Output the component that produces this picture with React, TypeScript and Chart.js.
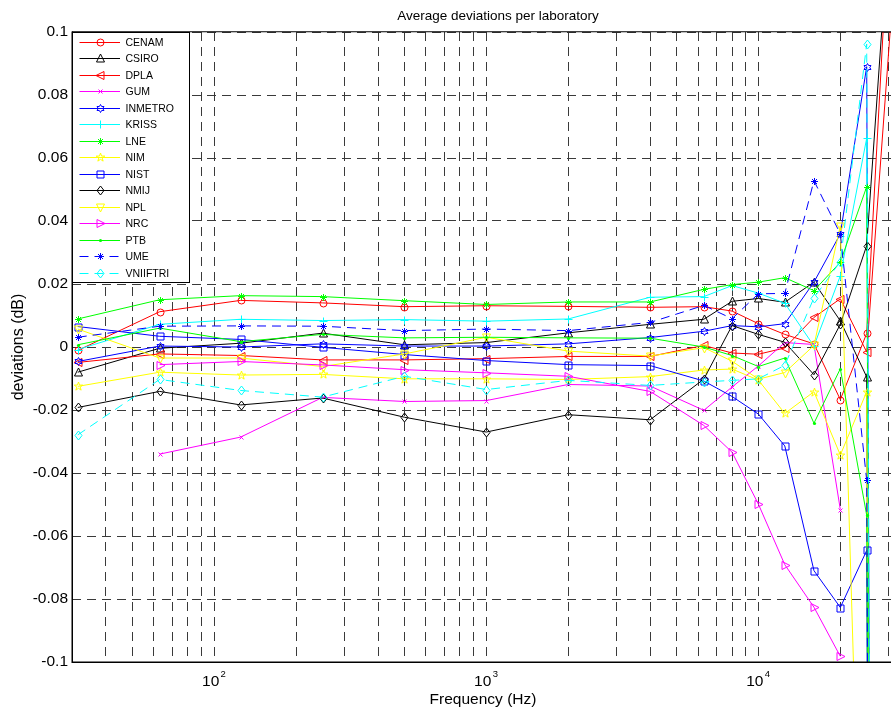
import React, { useEffect, useRef } from 'react';
import { Chart, registerables } from 'chart.js';

Chart.register(...registerables);

// ---------------- data ----------------
const frequencies = [31.5, 63, 125, 250, 500, 1000, 2000, 4000, 6300, 8000, 10000, 12500, 16000, 20000, 25000, 31500];

const CENAM = [-0.0011, 0.0112, 0.0148, 0.0140, 0.0128, 0.0131, 0.0129, 0.0126, 0.0128, 0.0114, 0.0074, 0.0040, 0.0010, -0.0167, 0.0043, 0.164];
const CSIRO = [-0.0080, -0.0004, 0.0012, 0.0044, 0.0007, 0.0014, 0.0045, 0.0072, 0.0088, 0.0145, 0.0154, 0.0142, 0.0206, 0.0083, -0.0095, -2.0];
const DPLA = [-0.0049, -0.0022, -0.0027, -0.0041, -0.0041, -0.0037, -0.0030, -0.0030, 0.0005, -0.0019, -0.0023, -0.0003, 0.0094, 0.0153, -0.0016, 0.117];
const GUM = [null, -0.0340, -0.0286, -0.0160, -0.0173, -0.0170, -0.0119, -0.0124, -0.0201, -0.0127, -0.0060, 0.0014, 0.0008, -0.0516, null, null];
const INMETRO = [-0.0046, 0.0003, 0.0000, 0.0010, 0.0003, 0.0003, 0.0010, 0.0030, 0.0050, 0.0068, 0.0064, 0.0074, 0.0206, 0.0359, 0.0890, -2.0];
const KRISS = [-0.0008, 0.0072, 0.0088, 0.0084, 0.0087, 0.0082, 0.0089, 0.0158, 0.0160, 0.0195, 0.0171, 0.0139, 0.0003, 0.0226, 0.0663, -2.0];
const LNE = [0.0089, 0.0150, 0.0163, 0.0160, 0.0147, 0.0135, 0.0143, 0.0143, 0.0183, 0.0198, 0.0206, 0.0220, 0.0179, 0.0269, 0.0509, -2.0];
const NIM = [-0.0125, -0.0080, -0.0089, -0.0087, -0.0101, -0.0101, -0.0103, -0.0094, -0.0073, -0.0070, -0.0105, -0.0211, -0.0142, -0.0343, -0.0142, -2.0];
const NIST = [0.0065, 0.0034, 0.0024, -0.0001, -0.0024, -0.0043, -0.0056, -0.0059, -0.0108, -0.0157, -0.0213, -0.0314, -0.0710, -0.0827, -0.0646, -2.0];
const NMIJ = [-0.0192, -0.0141, -0.0184, -0.0162, -0.0223, -0.0270, -0.0215, -0.0231, -0.0102, 0.0068, 0.0040, 0.0015, -0.0088, 0.0072, 0.0322, 0.156];
const NPL = [0.0057, -0.0035, -0.0035, -0.0062, -0.0022, 0.0031, -0.0013, -0.0029, -0.0002, -0.0045, -0.0102, -0.0081, 0.0005, 0.0385, -0.24, null];
const NRC = [null, -0.0056, -0.0046, -0.0057, -0.0072, -0.0082, -0.0093, -0.0141, -0.0249, -0.0334, -0.0499, -0.0691, -0.0826, -0.0982, null, null];
const PTB = [0.0007, 0.0060, 0.0017, 0.0040, 0.0029, 0.0031, 0.0029, 0.0028, 0.0000, -0.0027, -0.0062, -0.0035, -0.0242, -0.0069, -0.0534, -2.0];
const UME = [0.0031, 0.0066, 0.0067, 0.0066, 0.0052, 0.0057, 0.0052, 0.0078, 0.0132, 0.0090, 0.0169, 0.0170, 0.0528, 0.0359, -0.0423, -2.0];
const VNIIFTRI = [-0.0279, -0.0103, -0.0138, -0.0159, -0.0093, -0.0135, -0.0106, -0.0122, -0.0111, -0.0106, -0.0101, -0.0058, 0.0156, 0.0271, 0.0962, -2.0];

const labNames = ['CENAM', 'CSIRO', 'DPLA', 'GUM', 'INMETRO', 'KRISS', 'LNE', 'NIM', 'NIST', 'NMIJ', 'NPL', 'NRC', 'PTB', 'UME', 'VNIIFTRI'];
const labValues = [CENAM, CSIRO, DPLA, GUM, INMETRO, KRISS, LNE, NIM, NIST, NMIJ, NPL, NRC, PTB, UME, VNIIFTRI];
const labColors = ['#ff0000', '#000000', '#ff0000', '#ff00ff', '#0000ff', '#00ffff', '#00ff00', '#ffff00', '#0000ff', '#000000', '#ffff00', '#ff00ff', '#00ff00', '#0000ff', '#00ffff'];
const labMarkers = ['o', '^', '<', 'x', 'h', '+', '*', 'p', 's', 'd', 'v', '>', '.', '*', 'd'];
const labDashed = [false, false, false, false, false, false, false, false, false, false, false, false, false, true, true];

const yTickValues = [-0.1, -0.08, -0.06, -0.04, -0.02, 0, 0.02, 0.04, 0.06, 0.08, 0.1];
const yTickLabels = ['-0.1', '-0.08', '-0.06', '-0.04', '-0.02', '0', '0.02', '0.04', '0.06', '0.08', '0.1'];
const xGridValues = [40, 50, 60, 70, 80, 90, 100, 200, 300, 400, 500, 600, 700, 800, 900, 1000, 2000, 3000, 4000, 5000, 6000, 7000, 8000, 9000, 10000, 20000, 30000];
const xDecades = [100, 1000, 10000];
const xDecadeExponents = ['2', '3', '4'];

const titleText = 'Average deviations per laboratory';
const xTitle = 'Frequency (Hz)';
const yTitle = 'deviations (dB)';

const FONT = '"Liberation Sans", Arial, Helvetica, sans-serif';

// ---------------- marker drawing ----------------
function drawMarker(ctx: CanvasRenderingContext2D, kind: string, x: number, y: number, color: string) {
  ctx.save();
  ctx.setLineDash([]);
  ctx.lineWidth = 1;
  ctx.strokeStyle = color;
  ctx.fillStyle = color;
  const cx = Math.round(x) + 0.5;
  const cy = Math.round(y) + 0.5;
  const poly = (pts: number[][]) => {
    ctx.beginPath();
    ctx.moveTo(cx + pts[0][0], cy + pts[0][1]);
    for (let i = 1; i < pts.length; i++) ctx.lineTo(cx + pts[i][0], cy + pts[i][1]);
    ctx.closePath();
    ctx.stroke();
  };
  const seg = (x1: number, y1: number, x2: number, y2: number) => {
    ctx.moveTo(cx + x1, cy + y1);
    ctx.lineTo(cx + x2, cy + y2);
  };
  const star = (n: number, R: number, r: number) => {
    const pts: number[][] = [];
    for (let i = 0; i < 2 * n; i++) {
      const a = -Math.PI / 2 + (i * Math.PI) / n;
      const rr = i % 2 === 0 ? R : r;
      pts.push([rr * Math.cos(a), rr * Math.sin(a)]);
    }
    poly(pts);
  };
  switch (kind) {
    case 'o':
      ctx.beginPath();
      ctx.arc(cx, cy, 3.5, 0, Math.PI * 2);
      ctx.stroke();
      break;
    case '^':
      poly([[0, -4.5], [4, 3.5], [-4, 3.5]]);
      break;
    case 'v':
      poly([[0, 4.5], [4, -3.5], [-4, -3.5]]);
      break;
    case '<':
      poly([[-4.5, 0], [3.5, -4], [3.5, 4]]);
      break;
    case '>':
      poly([[4.5, 0], [-3.5, -4], [-3.5, 4]]);
      break;
    case 's':
      ctx.beginPath();
      ctx.rect(cx - 3.5, cy - 3.5, 7, 7);
      ctx.stroke();
      break;
    case 'd':
      poly([[0, -4.5], [3.5, 0], [0, 4.5], [-3.5, 0]]);
      break;
    case '+':
      ctx.beginPath();
      seg(-4, 0, 4, 0);
      seg(0, -4, 0, 4);
      ctx.stroke();
      break;
    case 'x':
      ctx.beginPath();
      seg(-2, -2, 2, 2);
      seg(-2, 2, 2, -2);
      ctx.stroke();
      break;
    case '*':
      ctx.beginPath();
      seg(-3.5, 0, 3.5, 0);
      seg(0, -3.5, 0, 3.5);
      seg(-2.5, -2.5, 2.5, 2.5);
      seg(-2.5, 2.5, 2.5, -2.5);
      ctx.stroke();
      break;
    case 'p':
      star(5, 4.5, 1.8);
      break;
    case 'h':
      star(6, 4, 2.3);
      break;
    case '.':
      ctx.beginPath();
      ctx.arc(cx, cy, 1.6, 0, Math.PI * 2);
      ctx.fill();
      break;
  }
  ctx.restore();
}

// ---------------- plugin ----------------
const decorPlugin = {
  id: 'decor',
  beforeDraw(chart: any) {
    const ctx = chart.ctx;
    ctx.save();
    ctx.fillStyle = '#ffffff';
    ctx.fillRect(0, 0, chart.width, chart.height);
    ctx.restore();
  },
  afterDatasetDraw(chart: any, args: any) {
    const ctx: CanvasRenderingContext2D = chart.ctx;
    const area = chart.chartArea;
    const i = args.index;
    const meta = args.meta;
    ctx.save();
    ctx.beginPath();
    ctx.rect(area.left - 5, area.top - 5, area.right - area.left + 10, area.bottom - area.top + 10);
    ctx.clip();
    for (const pt of meta.data) {
      if (pt.skip) continue;
      if (pt.y < area.top - 6 || pt.y > area.bottom + 6 || pt.x > area.right + 6) continue;
      drawMarker(ctx, labMarkers[i], pt.x, pt.y, labColors[i]);
    }
    ctx.restore();
  },
  afterDraw(chart: any) {
    const ctx: CanvasRenderingContext2D = chart.ctx;
    const area = chart.chartArea;
    const xScale = chart.scales.x;
    ctx.save();
    ctx.setLineDash([]);

    // axes box
    ctx.strokeStyle = '#000';
    ctx.lineWidth = 1;
    ctx.beginPath();
    ctx.moveTo(area.left, area.top - 0.25);
    ctx.lineTo(area.right + 2, area.top - 0.25);
    ctx.stroke();
    ctx.lineWidth = 1.5;
    ctx.beginPath();
    ctx.moveTo(area.left + 0.25, area.top - 0.5);
    ctx.lineTo(area.left + 0.25, area.bottom + 0.25);
    ctx.lineTo(area.right + 2, area.bottom + 0.25);
    ctx.stroke();

    // x tick labels (10^n)
    ctx.fillStyle = '#000';
    xDecades.forEach((d, k) => {
      const px = xScale.getPixelForValue(d);
      ctx.font = `15.5px ${FONT}`;
      ctx.textAlign = 'right';
      ctx.textBaseline = 'alphabetic';
      ctx.fillText('10', px + 5, 685.5);
      ctx.font = `9.5px ${FONT}`;
      ctx.textAlign = 'left';
      ctx.fillText(xDecadeExponents[k], px + 6.3, 676.5);
    });

    // titles
    const cxa = (area.left + area.right) / 2;
    ctx.font = `15.5px ${FONT}`;
    ctx.textAlign = 'center';
    ctx.textBaseline = 'alphabetic';
    ctx.fillText(xTitle, cxa, 704);
    ctx.font = `13.5px ${FONT}`;
    ctx.fillText(titleText, cxa + 15, 20);
    ctx.save();
    ctx.translate(19, (area.top + area.bottom) / 2);
    ctx.rotate(-Math.PI / 2);
    ctx.font = `16px ${FONT}`;
    ctx.textBaseline = 'middle';
    ctx.fillText(yTitle, 0, 0);
    ctx.restore();

    // legend
    const lx = area.left + 0.5;
    const ly = area.top + 0.5;
    ctx.fillStyle = '#fff';
    ctx.fillRect(lx, ly, 117, 250);
    ctx.strokeStyle = '#000';
    ctx.lineWidth = 1;
    ctx.strokeRect(lx, ly, 117, 250);
    labNames.forEach((name, i) => {
      const ry = Math.round(41.5 + 16.52 * i) + 0.5;
      ctx.save();
      ctx.strokeStyle = labColors[i];
      ctx.lineWidth = 1;
      ctx.setLineDash(labDashed[i] ? [9, 6] : []);
      ctx.beginPath();
      ctx.moveTo(79.5, ry);
      ctx.lineTo(120, ry);
      ctx.stroke();
      ctx.restore();
      drawMarker(ctx, labMarkers[i], 100, ry - 0.5, labColors[i]);
      ctx.fillStyle = '#000';
      ctx.font = `10.5px ${FONT}`;
      ctx.textAlign = 'left';
      ctx.textBaseline = 'middle';
      ctx.fillText(name, 125.5, ry + 0.5);
    });
    ctx.restore();
  },
};

export default function App() {
  const canvasRef = useRef<HTMLCanvasElement | null>(null);

  useEffect(() => {
    const canvas = canvasRef.current;
    if (!canvas) return;
    const n = labNames.length;
    const datasets = labNames.map((name, i) => ({
      label: name,
      data: frequencies
        .map((f, j) => ({ x: f, y: labValues[i][j] }))
        .filter((p) => p.y !== null && p.y !== undefined),
      borderColor: labColors[i],
      backgroundColor: labColors[i],
      borderWidth: 1,
      borderDash: labDashed[i] ? [9, 6] : [],
      pointRadius: 0,
      pointHoverRadius: 0,
      tension: 0,
      fill: false,
      order: n - 1 - i,
    }));

    const chart = new Chart(canvas, {
      type: 'line',
      data: { datasets },
      options: {
        animation: false,
        responsive: false,
        maintainAspectRatio: false,
        events: [],
        layout: { padding: { top: 32, right: 6, left: 0, bottom: 0 } },
        plugins: {
          legend: { display: false },
          tooltip: { enabled: false },
          title: { display: false },
        },
        scales: {
          x: {
            type: 'logarithmic',
            min: 30,
            max: 31500,
            afterBuildTicks: (scale: any) => {
              scale.ticks = xGridValues.map((v) => ({ value: v }));
            },
            afterFit: (scale: any) => {
              scale.height = 51;
            },
            ticks: { display: false },
            grid: { color: '#3a3a3a', lineWidth: 1, drawTicks: false },
            border: { display: false, dash: [9, 6] },
          },
          y: {
            type: 'linear',
            min: -0.1,
            max: 0.1,
            afterBuildTicks: (scale: any) => {
              scale.ticks = yTickValues.map((v) => ({ value: v }));
            },
            afterFit: (scale: any) => {
              scale.width = 72;
            },
            ticks: {
              autoSkip: false,
              padding: 4,
              color: '#000',
              font: { family: FONT, size: 15.5 },
              callback: (value: any) => {
                const k = yTickValues.findIndex((v) => Math.abs(v - Number(value)) < 1e-9);
                return k >= 0 ? yTickLabels[k] : '';
              },
            },
            grid: { color: '#3a3a3a', lineWidth: 1, drawTicks: false },
            border: { display: false, dash: [9, 6] },
          },
        },
      },
      plugins: [decorPlugin],
    } as any);

    return () => chart.destroy();
  }, []);

  return (
    <div
      style={{
        position: 'fixed',
        left: 0,
        top: 0,
        width: 891,
        height: 713,
        overflow: 'hidden',
        background: '#fff',
      }}
    >
      <canvas ref={canvasRef} width={900} height={713} style={{ display: 'block', width: 900, height: 713 }} />
    </div>
  );
}
